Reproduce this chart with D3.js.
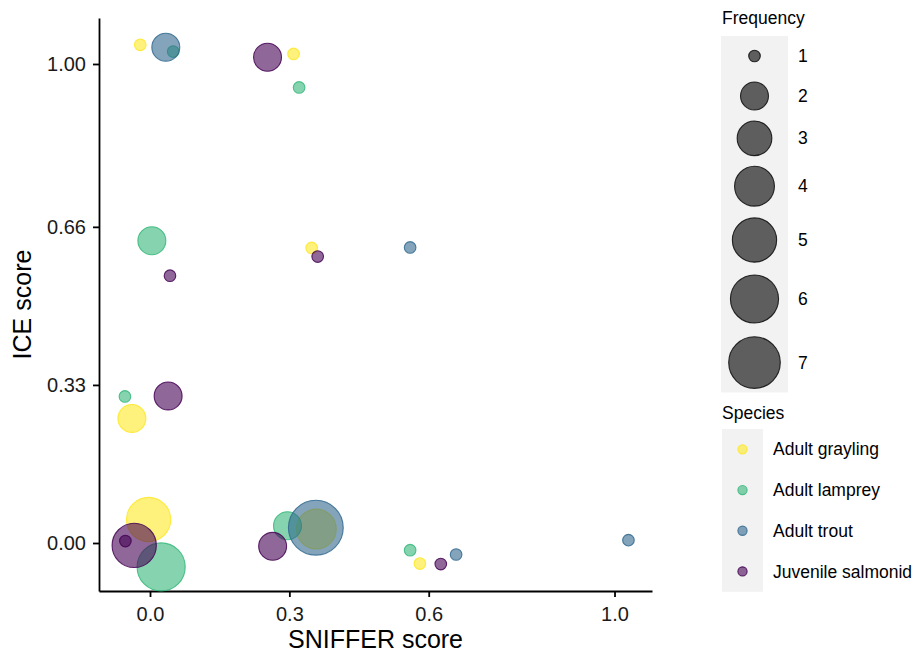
<!DOCTYPE html>
<html>
<head>
<meta charset="utf-8">
<script src="https://cdn.jsdelivr.net/npm/d3@7/dist/d3.min.js"></script>
<style>
  body { margin: 0; background: #fff; }
  svg { font-family: "Liberation Sans", Arial, sans-serif; }
  .axis path, .axis line { stroke: #000; stroke-width: 1.8; }
  .axis text { font-size: 20px; fill: #1a1a1a; }
</style>
</head>
<body>
<svg id="chart" width="924" height="657"></svg>
<script>
// Data (jittered positions as plotted)
var species = ["Adult grayling", "Adult lamprey", "Adult trout", "Juvenile salmonid"];
var speciesColors = ["#FDE725", "#35B779", "#31688E", "#440154"];

var graylingSniffer = [-0.021, 0.309, 0.348, -0.039, -0.003, 0.358, 0.581];
var graylingIce     = [1.040, 1.021, 0.616, 0.260, 0.049, 0.029, -0.043];
var graylingFreq    = [1, 1, 1, 2, 5, 4, 1];

var lampreySniffer = [0.050, 0.321, 0.004, -0.054, 0.024, 0.296, 0.560];
var lampreyIce     = [1.026, 0.951, 0.631, 0.306, -0.050, 0.036, -0.015];
var lampreyFreq    = [1, 1, 2, 1, 6, 2, 1];

var troutSniffer = [0.034, 0.560, 0.357, 0.659, 1.030];
var troutIce     = [1.035, 0.617, 0.032, -0.024, 0.006];
var troutFreq    = [2, 1, 8, 1, 1];

var juvenileSniffer = [0.253, 0.043, 0.361, 0.039, -0.034, -0.053, 0.264, 0.626];
var juvenileIce     = [1.014, 0.558, 0.598, 0.307, -0.005, 0.004, -0.007, -0.044];
var juvenileFreq    = [2, 1, 1, 2, 5, 1, 2, 1];

var xTicks = [0, 0.3, 0.6, 1.0];
var xTickLabels = ["0.0", "0.3", "0.6", "1.0"];
var yTicks = [0, 0.33, 0.66, 1.0];
var yTickLabels = ["0.00", "0.33", "0.66", "1.00"];
var freqBreaks = [1, 2, 3, 4, 5, 6, 7];

function init() {
  var svg = d3.select("#chart");

  // Panel
  var left = 99, right = 652, top = 18, bottom = 591;
  var x = d3.scaleLinear().domain([-0.1098, 1.0807]).range([left, right]);
  var y = d3.scaleLinear().domain([-0.1002, 1.096]).range([bottom, top]);
  var r = d3.scaleSqrt().domain([0, 6]).range([5.8, 25.8]); // used with freq - 1
  var color = d3.scaleOrdinal().domain(species).range(speciesColors);

  // Build points table in species order (drawing order)
  var sets = [
    [graylingSniffer, graylingIce, graylingFreq],
    [lampreySniffer, lampreyIce, lampreyFreq],
    [troutSniffer, troutIce, troutFreq],
    [juvenileSniffer, juvenileIce, juvenileFreq]
  ];
  var points = [];
  sets.forEach(function(s, i) {
    s[0].forEach(function(v, j) {
      points.push({ species: species[i], sniffer: v, ice: s[1][j], freq: s[2][j] });
    });
  });

  // Axes
  var xAxis = d3.axisBottom(x).tickValues(xTicks)
                .tickFormat(function(d, i) { return xTickLabels[i]; })
                .tickSize(6).tickSizeOuter(0).tickPadding(10);
  svg.append("g").attr("class", "axis").attr("transform", "translate(0," + bottom + ")").call(xAxis);

  var yAxis = d3.axisLeft(y).tickValues(yTicks)
                .tickFormat(function(d, i) { return yTickLabels[i]; })
                .tickSize(6).tickSizeOuter(0).tickPadding(7);
  svg.append("g").attr("class", "axis").attr("transform", "translate(" + left + ",0)").call(yAxis);

  // Axis titles
  svg.append("text")
     .attr("x", (left + right) / 2).attr("y", 648)
     .attr("text-anchor", "middle")
     .style("font-size", "25px").style("fill", "#000")
     .text("SNIFFER score");
  svg.append("text")
     .attr("transform", "translate(31," + (top + bottom) / 2 + ") rotate(-90)")
     .attr("text-anchor", "middle")
     .style("font-size", "25px").style("fill", "#000")
     .text("ICE score");

  // Points
  svg.append("g").selectAll("circle")
     .data(points)
     .enter()
     .append("circle")
     .attr("cx", function(d) { return x(d.sniffer); })
     .attr("cy", function(d) { return y(d.ice); })
     .attr("r", function(d) { return r(d.freq - 1); })
     .attr("fill", function(d) { return color(d.species); })
     .attr("fill-opacity", 0.6)
     .attr("stroke", function(d) { return color(d.species); })
     .attr("stroke-opacity", 0.85)
     .attr("stroke-width", 1.1);

  // Frequency legend
  var lgX = 721, keyW = 67;
  svg.append("text").attr("x", lgX + 1).attr("y", 24)
     .style("font-size", "17.5px").style("fill", "#000").text("Frequency");
  var keyTop = 36, keys = [];
  freqBreaks.forEach(function(f) {
    var h = Math.max(40, 2.5 * (r(f - 1) + 0.5));
    keys.push({ f: f, y: keyTop + h / 2 });
    keyTop += h;
  });
  svg.append("rect").attr("x", lgX).attr("y", 36).attr("width", keyW).attr("height", keyTop - 36 - 3)
     .attr("fill", "#f2f2f2");
  var fk = svg.append("g").selectAll("g").data(keys).enter().append("g");
  fk.append("circle")
    .attr("cx", lgX + keyW / 2).attr("cy", function(d) { return d.y; })
    .attr("r", function(d) { return r(d.f - 1); })
    .attr("fill", "#000").attr("fill-opacity", 0.61)
    .attr("stroke", "#000").attr("stroke-opacity", 0.8).attr("stroke-width", 1.1);
  fk.append("text")
    .attr("x", 798).attr("y", function(d) { return d.y; }).attr("dy", "0.35em")
    .style("font-size", "17.5px").style("fill", "#000")
    .text(function(d) { return d.f; });

  // Species legend
  var sTop = 429, sKeyH = 40.7, sKeyW = 41;
  svg.append("text").attr("x", lgX + 1).attr("y", 419)
     .style("font-size", "17.5px").style("fill", "#000").text("Species");
  svg.append("rect").attr("x", lgX + 1).attr("y", sTop).attr("width", sKeyW).attr("height", sKeyH * species.length)
     .attr("fill", "#f2f2f2");
  var sk = svg.append("g").selectAll("g").data(species).enter().append("g");
  sk.append("circle")
    .attr("cx", lgX + 1 + sKeyW / 2).attr("cy", function(d, i) { return sTop + sKeyH * (i + 0.5); })
    .attr("r", 4.6)
    .attr("fill", function(d) { return color(d); }).attr("fill-opacity", 0.6)
    .attr("stroke", function(d) { return color(d); }).attr("stroke-opacity", 0.85).attr("stroke-width", 1.1);
  sk.append("text")
    .attr("x", 773).attr("y", function(d, i) { return sTop + sKeyH * (i + 0.5); }).attr("dy", "0.35em")
    .style("font-size", "17.5px").style("fill", "#000")
    .text(function(d) { return d; });
}

init();
</script>
</body>
</html>
